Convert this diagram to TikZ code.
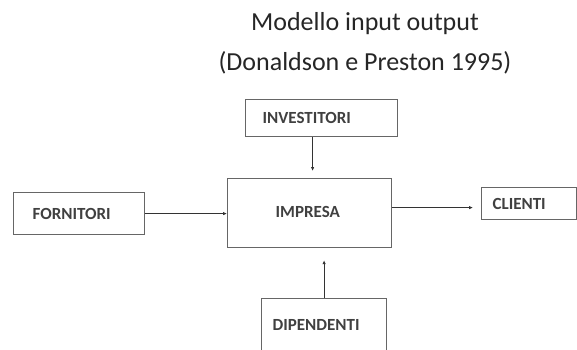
\documentclass[tikz,border=0pt]{standalone}
\usepackage{fontspec}
\setmainfont{Carlito}
\usetikzlibrary{arrows.meta}

\tikzset{
	box/.style={draw=black!60, line width=1.2pt, rectangle, anchor=north west,
		align=left, text=black!75, font=\fontsize{17}{20}\selectfont\bfseries},
	flow/.style={draw=black!80, line width=0.9pt, -{Latex[length=4pt,width=3.5pt]}}
}

\begin{document}
\begin{tikzpicture}[x=1pt, y=-1pt]
			%%%%% START %%%%%
			
			\clip (0, 0) rectangle (577, 349);
			
			\node[align=center, text=black!85, font=\fontsize{26}{40}\selectfont] (title) at (365, 43)
				{Modello input output\\(Donaldson e Preston 1995)};
			
			\node[box, minimum width=131pt, minimum height=42pt, inner xsep=19pt, text width=93pt] (fornitori) at (13, 192) {FORNITORI};
			\node[box, minimum width=152pt, minimum height=37pt, inner xsep=17pt, text width=118pt] (investitori) at (245, 99) {INVESTITORI};
			\node[box, minimum width=164pt, minimum height=69pt, inner xsep=48pt, text width=68pt] (impresa) at (227, 178) {\raisebox{3pt}{IMPRESA}};
			\node[box, minimum width=95pt, minimum height=32pt, inner xsep=11pt, text width=73pt] (clienti) at (481, 187) {CLIENTI};
			\node[box, minimum width=125pt, minimum height=60pt, inner xsep=11pt, text width=103pt] (dipendenti) at (261, 298) {\raisebox{7pt}{DIPENDENTI}};
			
			\draw[flow] (fornitori.east) -- (fornitori.east -| impresa.west);
			\draw[flow, shorten >=7pt] ([xshift=-9pt]investitori.south) -- ([xshift=-9pt]investitori.south |- impresa.north);
			\draw[flow, shorten >=12pt] (dipendenti.north) -- (dipendenti.north |- impresa.south);
			\draw[flow, shorten >=8pt] ([yshift=-4pt]clienti.west -| impresa.east) -- ([yshift=-4pt]clienti.west);
			
			%%%%% END %%%%%
		\end{tikzpicture}
\end{document}
